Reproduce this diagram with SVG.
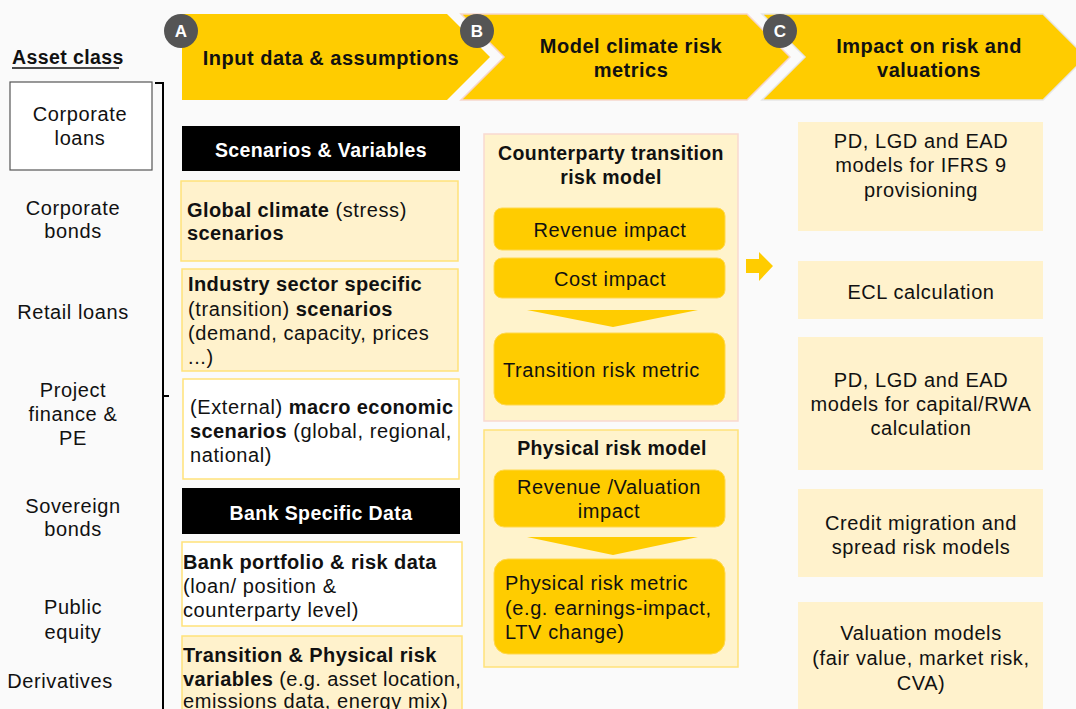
<svg xmlns="http://www.w3.org/2000/svg" width="1076" height="709" viewBox="0 0 1076 709">
<style>
text{font-family:"Liberation Sans",Arial,sans-serif;font-size:20px;fill:#111;letter-spacing:0.6px}
.b{font-weight:bold;letter-spacing:0.4px}
.hd{font-weight:bold;font-size:20px;letter-spacing:0.5px}
.c{text-anchor:middle}
.wh{fill:#fff;font-weight:bold;font-size:19.5px;letter-spacing:0.4px}
.chev{fill:#ffcc00}
.circ{fill:#555}
.cl{fill:#fff;font-weight:bold;font-size:17px;text-anchor:middle;letter-spacing:0}
.ly{fill:#fff2cc;stroke:#ffe27a;stroke-width:1.5}
.wy{fill:#fff;stroke:#ffe27a;stroke-width:1.5}
.blk{fill:#000}
.gold{fill:#ffcc00;stroke:#ffd84d;stroke-width:1}
.rc{fill:#fff2cc}
</style>
<rect width="1076" height="709" fill="#fafafa"/>

<g id="chevron-A">
<path class="chev" d="M182,14 L447,14 L490,57 L447,100 L182,100 Z"/>
<text class="hd c" x="331" y="65">Input data &amp; assumptions</text>
</g>
<g id="chevron-B">
<path class="chev" stroke="#f6d6cc" stroke-width="1.5" d="M461,14 L747,14 L790,57 L747,100 L461,100 L504,57 Z"/>
<text class="hd c" x="631" y="53">Model climate risk</text>
<text class="hd c" x="631" y="77">metrics</text>
</g>
<g id="chevron-C">
<path class="chev" stroke="#e6e6e6" stroke-width="1.5" d="M762,14 L1043,14 L1086,57 L1043,100 L762,100 L805,57 Z"/>
<text class="hd c" x="929" y="53">Impact on risk and</text>
<text class="hd c" x="929" y="77">valuations</text>
</g>
<g id="badge-A"><circle class="circ" cx="181" cy="31" r="17"/><text class="cl" x="181" y="37">A</text></g>
<g id="badge-B"><circle class="circ" cx="477" cy="31" r="17"/><text class="cl" x="477" y="37">B</text></g>
<g id="badge-C"><circle class="circ" cx="780" cy="31" r="17"/><text class="cl" x="780" y="37">C</text></g>

<g id="asset-class">
<text class="b" x="12" y="64" style="font-size:19.5px">Asset class</text>
<line x1="12" y1="68" x2="119" y2="68" stroke="#111" stroke-width="1.5"/>
</g>
<g id="corporate-loans">
<rect x="10" y="82" width="142" height="88" fill="#fff" stroke="#555" stroke-width="1.2"/>
<text class="c" x="80" y="121">Corporate</text>
<text class="c" x="80" y="145">loans</text>
</g>
<g id="corporate-bonds"><text class="c" x="73" y="215">Corporate</text><text class="c" x="73" y="238">bonds</text></g>
<g id="retail-loans"><text class="c" x="73" y="319">Retail loans</text></g>
<g id="project-finance"><text class="c" x="73" y="397">Project</text><text class="c" x="73" y="421">finance &amp;</text><text class="c" x="73" y="445">PE</text></g>
<g id="sovereign-bonds"><text class="c" x="73" y="513">Sovereign</text><text class="c" x="73" y="536">bonds</text></g>
<g id="public-equity"><text class="c" x="73" y="614">Public</text><text class="c" x="73" y="639">equity</text></g>
<g id="derivatives"><text class="c" x="60" y="688">Derivatives</text></g>
<g id="bracket">
<path d="M155,83 H163 V709 M163,396 H169" fill="none" stroke="#000" stroke-width="2"/>
</g>

<g id="scenarios-header">
<rect class="blk" x="182" y="126" width="278" height="45"/>
<text class="wh c" x="321" y="157">Scenarios &amp; Variables</text>
</g>
<g id="global-climate">
<rect class="ly" x="181" y="181" width="277" height="80"/>
<text x="187" y="217"><tspan class="b">Global climate</tspan> (stress)</text>
<text class="b" x="187" y="240">scenarios</text>
</g>
<g id="industry-sector">
<rect class="ly" x="182" y="269" width="276" height="102"/>
<text class="b" x="188" y="291">Industry sector specific</text>
<text x="188" y="316">(transition) <tspan class="b">scenarios</tspan></text>
<text x="188" y="340">(demand, capacity, prices</text>
<text x="188" y="364">...)</text>
</g>
<g id="macro-economic">
<rect class="wy" x="183" y="379" width="276" height="100"/>
<text x="190" y="414">(External) <tspan class="b">macro economic</tspan></text>
<text x="190" y="438"><tspan class="b">scenarios</tspan> (global, regional,</text>
<text x="190" y="462">national)</text>
</g>
<g id="bank-header">
<rect class="blk" x="182" y="488" width="278" height="46"/>
<text class="wh c" x="321" y="520">Bank Specific Data</text>
</g>
<g id="bank-portfolio">
<rect class="wy" x="182" y="542" width="280" height="84"/>
<text class="b" x="183" y="569">Bank portfolio &amp; risk data</text>
<text x="183" y="593">(loan/ position &amp;</text>
<text x="183" y="617">counterparty level)</text>
</g>
<g id="risk-variables">
<rect class="ly" x="182" y="636" width="280" height="80"/>
<text class="b" x="183" y="662">Transition &amp; Physical risk</text>
<text x="183" y="686" style="letter-spacing:0.4px"><tspan class="b">variables</tspan> (e.g. asset location,</text>
<text x="183" y="708">emissions data, energy mix)</text>
</g>

<g id="transition-model">
<rect x="484" y="134" width="254" height="287" fill="#fff3cc" stroke="#f9d9d0" stroke-width="1.5"/>
<text class="b c" x="611" y="160" style="font-size:19.5px">Counterparty transition</text>
<text class="b c" x="611" y="184" style="font-size:19.5px">risk model</text>
</g>
<g id="revenue-impact">
<rect class="gold" x="494" y="208" width="231" height="42" rx="8"/>
<text class="c" x="610" y="237">Revenue impact</text>
</g>
<g id="cost-impact">
<rect class="gold" x="494" y="258" width="231" height="40" rx="8"/>
<text class="c" x="610" y="286">Cost impact</text>
</g>
<g id="transition-metric">
<rect class="gold" x="494" y="333" width="231" height="72" rx="12"/>
<text x="503" y="377">Transition risk metric</text>
</g>
<g id="physical-model">
<rect x="484" y="430" width="254" height="237" fill="#fff3cc" stroke="#ffe27a" stroke-width="1.5"/>
<text class="b c" x="612" y="455" style="font-size:19.5px">Physical risk model</text>
</g>
<g id="revenue-valuation">
<rect class="gold" x="494" y="470" width="231" height="57" rx="10"/>
<text class="c" x="609" y="494">Revenue /Valuation</text>
<text class="c" x="609" y="518">impact</text>
</g>
<g id="physical-metric">
<rect class="gold" x="494" y="559" width="231" height="95" rx="14"/>
<text x="505" y="590">Physical risk metric</text>
<text x="505" y="615">(e.g. earnings-impact,</text>
<text x="505" y="639">LTV change)</text>
</g>

<g id="ifrs9">
<rect class="rc" x="798" y="122" width="245" height="109"/>
<text class="c" x="921" y="148">PD, LGD and EAD</text>
<text class="c" x="921" y="172">models for IFRS 9</text>
<text class="c" x="921" y="197">provisioning</text>
</g>
<g id="ecl">
<rect class="rc" x="798" y="261" width="245" height="58"/>
<text class="c" x="921" y="299">ECL calculation</text>
</g>
<g id="capital-rwa">
<rect class="rc" x="798" y="337" width="245" height="133"/>
<text class="c" x="921" y="387">PD, LGD and EAD</text>
<text class="c" x="921" y="411">models for capital/RWA</text>
<text class="c" x="921" y="435">calculation</text>
</g>
<g id="credit-migration">
<rect class="rc" x="798" y="489" width="245" height="88"/>
<text class="c" x="921" y="530">Credit migration and</text>
<text class="c" x="921" y="554">spread risk models</text>
</g>
<g id="valuation-models">
<rect class="rc" x="798" y="602" width="245" height="115"/>
<text class="c" x="921" y="640">Valuation models</text>
<text class="c" x="921" y="665">(fair value, market risk,</text>
<text class="c" x="921" y="690">CVA)</text>
</g>

<g id="connectors">
<polygon fill="#ffcc00" points="527,310 698,310 613,327"/>
<polygon fill="#ffcc00" points="527,537 698,537 613,555"/>
<polygon fill="#ffcc00" points="746,259 759,259 759,252 773,266 759,281 759,273 746,273"/>
</g>
</svg>
